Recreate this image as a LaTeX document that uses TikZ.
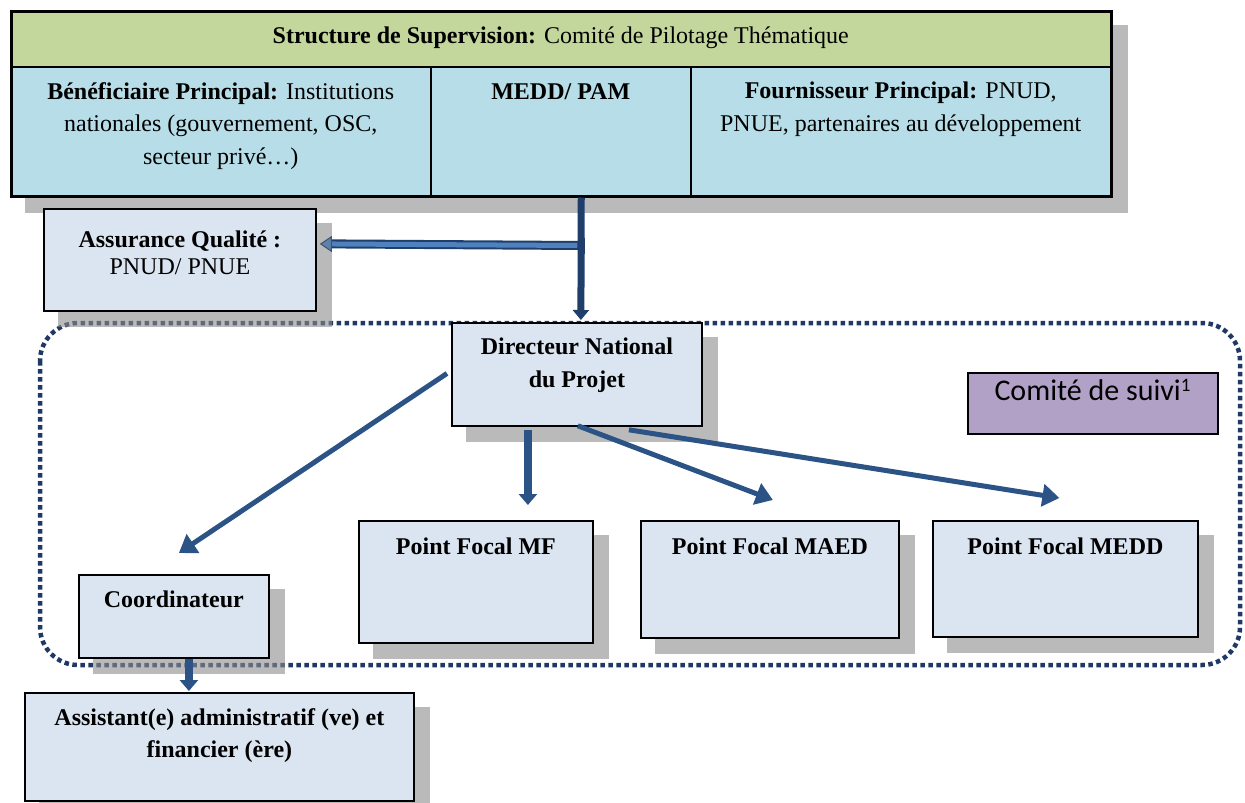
\documentclass[tikz,border=0pt]{standalone}
\usepackage{fontspec}
\setmainfont{Liberation Serif}
\newfontfamily\calib{Carlito}
\usetikzlibrary{arrows.meta}
\pgfdeclarelayer{bg}
\pgfdeclarelayer{shd}
\pgfsetlayers{bg,shd,main}
\definecolor{boxfill}{HTML}{DBE5F1}
\definecolor{hdrfill}{HTML}{C3D69B}
\definecolor{rowfill}{HTML}{B7DEE8}
\definecolor{purp}{HTML}{B2A1C7}
\definecolor{arrc}{HTML}{2C5385}
\definecolor{arrdark}{HTML}{1F3F6A}
\definecolor{arrlight}{HTML}{4F81BD}
\definecolor{framec}{HTML}{1F3864}
\definecolor{shadowc}{RGB}{140,140,140}
\newcommand\shadowof[1]{\begin{pgfonlayer}{shd}\fill[shadowc,fill opacity=0.6] ([xshift=15pt,yshift=-15pt]#1.north west) rectangle ([xshift=15pt,yshift=-15pt]#1.south east);\end{pgfonlayer}}
\begin{document}
\begin{tikzpicture}[x=1pt,y=-1pt,
  box/.style={draw=black, line width=1.8pt, fill=boxfill, anchor=north west, inner sep=0pt},
  cell/.style={draw=black, line width=1.5pt, anchor=north west, inner sep=0pt},
  lbl/.style={anchor=north, inner sep=0pt, align=center, font=\fontsize{24}{32.5}\selectfont},
  arr/.style={draw=arrc, line width=5pt, -{Triangle[length=17pt,width=22pt]}},
  blk/.style={draw=arrc, line width=8pt, -{Triangle[length=11pt,width=18pt]}},
  frame/.style={draw=framec, line width=4.5pt, dash pattern=on 4.5pt off 3.5pt, rounded corners=38pt}
]
\useasboundingbox (0,0) rectangle (1245,803);

% dotted frame (Comite de suivi area)
\begin{pgfonlayer}{bg}
\draw[frame] (40,323) rectangle (1240,665);
\end{pgfonlayer}

% top structure
\node[cell, fill=hdrfill, minimum width=1100pt, minimum height=56pt] (hdr) at (10,10) {};
\node[cell, fill=rowfill, minimum width=420pt, minimum height=129pt] (ben) at (10,66) {};
\node[cell, fill=rowfill, minimum width=260pt, minimum height=129pt] (medd) at (430,66) {};
\node[cell, fill=rowfill, minimum width=420pt, minimum height=129pt] (four) at (690,66) {};
\node[draw=black, line width=2.5pt, anchor=north west, inner sep=0pt, minimum width=1100pt, minimum height=185pt] (top) at (10,10) {};
\shadowof{top}
\node[anchor=center, inner sep=0pt, font=\fontsize{24}{32.5}\selectfont] (hdrT) at ([yshift=1pt]hdr.center) {\textbf{Structure de Supervision:} Comité de Pilotage Thématique};
\node[lbl] (benT) at ([yshift=-16pt]ben.north) {\textbf{Bénéficiaire Principal:} Institutions\\nationales (gouvernement, OSC,\\secteur privé…)};
\node[lbl] (meddT) at ([yshift=-17pt]medd.north) {\textbf{MEDD/ PAM}};
\node[lbl] (fourT) at ([yshift=-16pt]four.north) {\textbf{Fournisseur Principal:} PNUD,\\PNUE, partenaires au développement};

% Assurance qualite
\node[box, minimum width=272pt, minimum height=102pt] (aq) at (43,208) {};
\shadowof{aq}
\node[lbl, font=\fontsize{24}{27}\selectfont] (aqT) at ([yshift=-23pt]aq.north) {\textbf{Assurance Qualité :}\\PNUD/ PNUE};

% Directeur national
\node[box, minimum width=250pt, minimum height=103pt] (dnp) at (451,322) {};
\shadowof{dnp}
\node[lbl] (dnpT) at ([yshift=-16pt]dnp.north) {\textbf{Directeur National}\\\textbf{du Projet}};

% Comite de suivi
\node[draw=black, line width=1.5pt, fill=purp, anchor=north west, inner sep=0pt, minimum width=250pt, minimum height=61pt] (cs) at (967,372) {};
\node[anchor=north, inner sep=0pt, font=\calib\fontsize{30}{34}\selectfont] (csT) at ([yshift=-7pt]cs.north) {Comité de suivi\textsuperscript{\fontsize{19}{20}\selectfont 1}};

% Points focaux
\node[box, minimum width=234pt, minimum height=122pt] (mf) at (358,520) {};
\shadowof{mf}
\node[lbl] (mfT) at ([yshift=-18pt]mf.north) {\textbf{Point Focal MF}};
\node[box, minimum width=258pt, minimum height=117pt] (maed) at (640,520) {};
\shadowof{maed}
\node[lbl] (maedT) at ([yshift=-18pt]maed.north) {\textbf{Point Focal MAED}};
\node[box, minimum width=265pt, minimum height=116pt] (mdd) at (932,520) {};
\shadowof{mdd}
\node[lbl] (mddT) at ([yshift=-18pt]mdd.north) {\textbf{Point Focal MEDD}};

% Coordinateur
\node[box, minimum width=190pt, minimum height=83pt] (coord) at (78,574) {};
\shadowof{coord}
\node[lbl] (coordT) at ([yshift=-17pt]coord.north) {\textbf{Coordinateur}};

% Assistant
\node[box, minimum width=389pt, minimum height=108pt] (asst) at (24,692) {};
\shadowof{asst}
\node[lbl] (asstT) at ([yshift=-16pt]asst.north) {\textbf{Assistant(e) administratif (ve) et}\\\textbf{financier (ère)}};

% connectors
\draw[draw=arrdark, line width=7pt, -{Triangle[length=10pt,width=16pt]}] ([xshift=20pt]top.south) -- ([xshift=4pt,yshift=2pt]dnp.north);
\draw[draw=arrdark, line width=9pt] ([xshift=20pt,yshift=-48pt]top.south) -- ([xshift=14pt,yshift=16pt]aq.east);
\draw[draw=arrlight, line width=5pt, -{Triangle[length=12pt,width=16pt,fill=arrlight!70!gray,color=arrdark!70!gray,line width=1pt]}] ([xshift=16pt,yshift=-48pt]top.south) -- ([xshift=3pt,yshift=16pt]aq.east);
\draw[draw=arrdark, line width=7pt] ([xshift=20pt,yshift=-40pt]top.south) -- ([xshift=20pt,yshift=-56pt]top.south);

\draw[arr] ([xshift=-4pt,yshift=1pt]dnp.west) -- ([xshift=5pt,yshift=21pt]coord.north);
\draw[blk] ([xshift=-49pt,yshift=-3pt]dnp.south) -- ([xshift=52pt,yshift=15pt]mf.north);
\draw[arr] ([xshift=1pt,yshift=1pt]dnp.south) -- ([xshift=3pt,yshift=20pt]maed.north);
\draw[arr] ([xshift=52pt,yshift=-3pt]dnp.south) -- ([xshift=-6pt,yshift=22pt]mdd.north);
\draw[blk] ([xshift=15pt]coord.south) -- ([xshift=-30.5pt,yshift=1pt]asst.north);
\end{tikzpicture}
\end{document}
